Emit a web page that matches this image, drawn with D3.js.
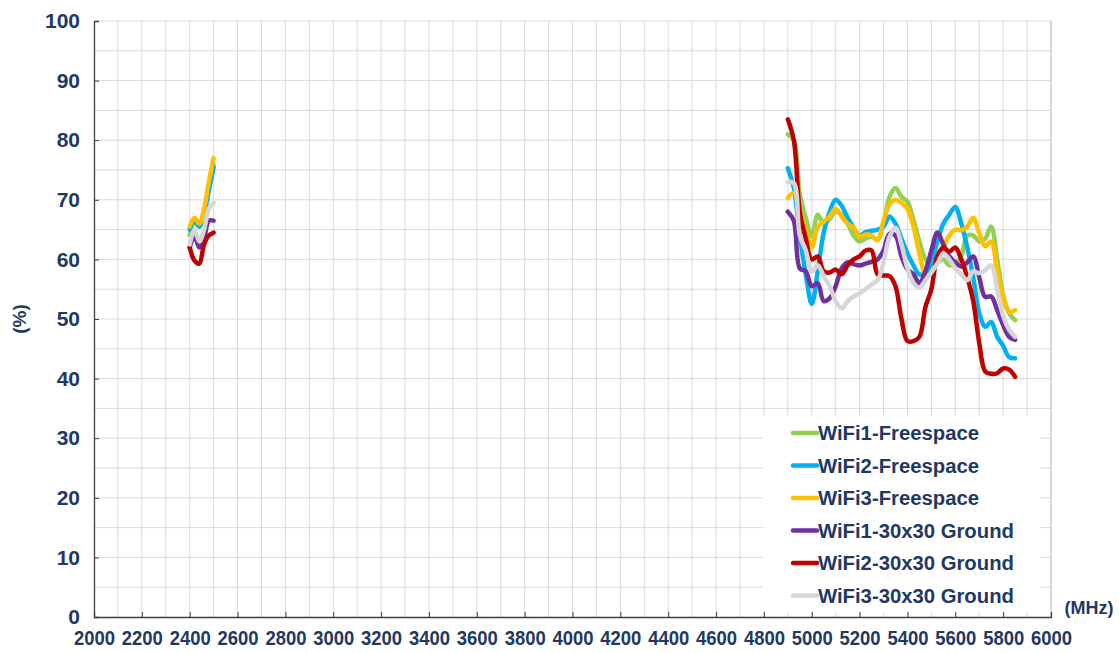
<!DOCTYPE html>
<html>
<head>
<meta charset="utf-8">
<script src="https://cdn.jsdelivr.net/npm/d3@7"></script>
<style>
  body { margin: 0; background: #fff; }
  svg text { font-family: "Liberation Sans", Arial, sans-serif; font-weight: bold; fill: #1f3864; }
</style>
</head>
<body>
<svg id="chart" width="1119" height="653"></svg>
<script>
const WIDTH = 1119;
const HEIGHT = 653;
const MARGIN = { left: 94, right: 68, top: 21, bottom: 36 };

// DATA
const freq24 = [2400, 2420, 2440, 2460, 2480, 2500];
const freq5 = [4900, 4925, 4950, 4975, 5000, 5025, 5050, 5075, 5100, 5125, 5150, 5175, 5200,
  5225, 5250, 5275, 5300, 5325, 5350, 5375, 5400, 5425, 5450, 5475, 5500, 5525, 5550, 5575,
  5600, 5625, 5650, 5675, 5700, 5725, 5750, 5775, 5800, 5825, 5850];

const seriesNames = ['WiFi1-Freespace', 'WiFi2-Freespace', 'WiFi3-Freespace',
  'WiFi1-30x30 Ground', 'WiFi2-30x30 Ground', 'WiFi3-30x30 Ground'];
const seriesColors = ['#92d050', '#00b0f0', '#ffc000', '#7030a0', '#c00000', '#d6d6d6'];

const wifi1Free24 = [64, 66.5, 65.5, 68, 72, 76];
const wifi2Free24 = [65, 66.5, 65.5, 67.5, 71.5, 75.5];
const wifi3Free24 = [65.5, 67, 66, 68.5, 73, 77];
const wifi1Gnd24 = [62, 64, 62, 63.5, 66.5, 66.5];
const wifi2Gnd24 = [62, 59.8, 59.3, 62.5, 64, 64.5];
const wifi3Gnd24 = [62.5, 65, 63, 65, 68.5, 69.5];

const wifi1Free5 = [81, 80, 71, 67, 63.8, 67.5, 66, 66.8, 68, 67.5, 66, 64, 63,
  63.5, 63.8, 63.3, 66, 70.5, 72, 70.5, 69.7, 66.6, 63, 60, 59, 59.5, 60, 59,
  59.3, 60.5, 64, 64, 63, 63.5, 65.5, 60, 54, 51, 49.8];
const wifi2Free5 = [75.3, 72, 64, 57.5, 52.5, 58, 64.5, 68, 70, 69, 67, 65.3, 64,
  64.6, 64.8, 65, 65.5, 67.2, 66, 63.5, 61, 59, 57.5, 57.7, 59.5, 63, 66, 67.5,
  68.8, 66, 62, 57, 51, 48.7, 49.5, 47, 45.5, 43.6, 43.4];
const wifi3Free5 = [70.3, 71.2, 68, 65, 62, 65.5, 66.3, 67.2, 68.5, 67.2, 66, 65.3, 63.8,
  64.2, 64, 63.2, 66.5, 69.3, 70, 69.5, 68.5, 65.5, 61, 57.5, 57.4, 60, 62, 64,
  65, 64.9, 65.5, 67, 64.4, 62.2, 63, 58, 53.5, 51.2, 51.5];
const wifi1Gnd5 = [68, 66.5, 58.5, 58, 55.5, 56, 53, 53.5, 55.5, 58.5, 59.5, 59.2, 59,
  59.3, 59.6, 60, 61.5, 64.3, 64, 60.5, 58.3, 57.5, 56, 58, 61.5, 64.5, 62.5, 60.5,
  59.5, 58.8, 59.5, 60.5, 57, 53.7, 53.8, 51.5, 49, 47, 46.5];
const wifi2Gnd5 = [83.5, 80, 68, 63.5, 60, 60.5, 58, 57.8, 58.3, 57.5, 59, 60, 60.5,
  61.5, 61.5, 57.5, 57.3, 57.2, 55.5, 50, 46.3, 46.3, 47, 52, 55, 60.5, 62, 61.3,
  62, 60, 57, 53, 46, 41.2, 40.8, 40.9, 41.7, 41.5, 40.3];
const wifi3Gnd5 = [73, 72.8, 64, 61.5, 58, 59, 57.2, 55.5, 53, 51.8, 53, 53.8, 54.3,
  55, 55.8, 56.5, 59.5, 63.8, 65.3, 62.5, 58.5, 56, 55.3, 56.5, 57.8, 59.3, 61, 60,
  58.5, 57.5, 56.5, 58, 57.7, 58.2, 59, 55, 50.5, 48.2, 47];

const values24 = [wifi1Free24, wifi2Free24, wifi3Free24, wifi1Gnd24, wifi2Gnd24, wifi3Gnd24];
const values5 = [wifi1Free5, wifi2Free5, wifi3Free5, wifi1Gnd5, wifi2Gnd5, wifi3Gnd5];

const xTicks = d3.range(2000, 6001, 200);
const yTicks = d3.range(0, 101, 10);

// SCALES
const svg = d3.select('#chart');
const x = d3.scaleLinear().domain([2000, 6000]).range([MARGIN.left, WIDTH - MARGIN.right]);
const y = d3.scaleLinear().domain([0, 100]).range([HEIGHT - MARGIN.bottom, MARGIN.top]);

// grid
const grid = svg.append('g');
grid.selectAll('line.v')
  .data(d3.range(2100, 6000, 100))
  .join('line')
  .attr('x1', d => x(d)).attr('x2', d => x(d))
  .attr('y1', y(0)).attr('y2', y(100))
  .attr('stroke', '#d9d9d9').attr('stroke-width', 1);
grid.selectAll('line.h')
  .data(d3.range(5, 101, 5))
  .join('line')
  .attr('x1', x(2000)).attr('x2', x(6000))
  .attr('y1', d => y(d)).attr('y2', d => y(d))
  .attr('stroke', '#d9d9d9').attr('stroke-width', 1);

// right border
svg.append('line')
  .attr('x1', x(6000)).attr('x2', x(6000))
  .attr('y1', y(0)).attr('y2', y(100))
  .attr('stroke', '#b0b0b0');

// axes
const xAxis = svg.append('g')
  .attr('transform', `translate(0,${y(0)})`)
  .call(d3.axisBottom(x).tickValues(xTicks).tickSize(-5).tickPadding(13).tickFormat(d3.format('d')));
const yAxis = svg.append('g')
  .attr('transform', `translate(${x(2000)},0)`)
  .call(d3.axisLeft(y).tickValues(yTicks).tickSize(-5).tickPadding(14));

[xAxis, yAxis].forEach(ax => {
  ax.select('.domain').attr('stroke', '#404040').attr('stroke-width', 1.3);
  ax.selectAll('.tick line').attr('stroke', '#404040');
  ax.selectAll('text').attr('fill', '#1f3864')
    .style('font-family', '"Liberation Sans", Arial, sans-serif');
});
// narrow-looking labels on the x axis
xAxis.selectAll('text')
  .attr('font-size', 20.5)
  .attr('dy', '0.71em')
  .attr('textLength', 41)
  .attr('lengthAdjust', 'spacingAndGlyphs');
yAxis.selectAll('text').attr('font-size', 21);

svg.append('text')
  .attr('transform', `translate(26,${y(50)}) rotate(-90)`)
  .attr('text-anchor', 'middle')
  .attr('font-size', 19)
  .text('(%)');

svg.append('text')
  .attr('x', 1089).attr('y', y(0) - 3)
  .attr('text-anchor', 'middle')
  .attr('font-size', 18)
  .text('(MHz)');

// LINES
const line = d3.line()
  .x(d => x(d[0]))
  .y(d => y(d[1]))
  .curve(d3.curveCatmullRom.alpha(0.5));

const lines = svg.append('g');
seriesNames.forEach((name, i) => {
  const pts24 = freq24.map((f, j) => [f, values24[i][j]]);
  const pts5 = freq5.map((f, j) => [f, values5[i][j]]);
  lines.selectAll(null)
    .data([pts24, pts5])
    .join('path')
    .attr('d', line)
    .attr('fill', 'none')
    .attr('stroke', seriesColors[i])
    .attr('stroke-width', 4.5)
    .attr('stroke-linejoin', 'round')
    .attr('stroke-linecap', 'round');
});

// LEGEND
const legend = svg.append('g');
legend.append('rect')
  .attr('x', 763).attr('y', 416)
  .attr('width', 277).attr('height', 196)
  .attr('fill', '#fff');

const legendItems = legend.selectAll('g.item')
  .data(seriesNames)
  .join('g')
  .attr('transform', (d, i) => `translate(793,${433 + i * 32.5})`);

legendItems.append('line')
  .attr('x1', 0).attr('x2', 24)
  .attr('stroke', (d, i) => seriesColors[i])
  .attr('stroke-width', 4.5)
  .attr('stroke-linecap', 'round');

legendItems.append('text')
  .attr('x', 25).attr('dy', '0.35em')
  .attr('font-size', 20.3)
  .text(d => d);
</script>
</body>
</html>
